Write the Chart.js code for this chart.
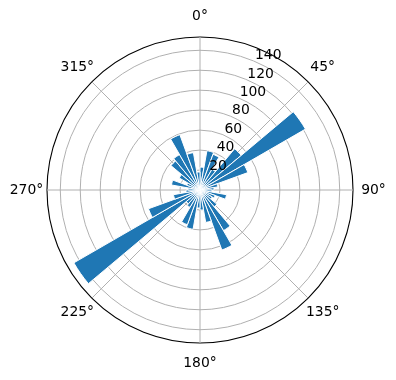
<!DOCTYPE html>
<html>
<head>
<meta charset="utf-8">
<script src="https://cdn.jsdelivr.net/npm/chart.js@4.4.1/dist/chart.umd.min.js"></script>
<style>
  html, body { margin: 0; padding: 0; background: #ffffff; }
  #wrap { width: 396px; height: 380px; }
</style>
</head>
<body>
<div id="wrap"><canvas id="c" width="396" height="380"></canvas></div>
<script>
// Direction bins (start of each 10° bin, clockwise from north)
const binStartsDeg = [0,10,20,30,40,50,60,70,80,90,100,110,120,130,140,150,160,170,
                      180,190,200,210,220,230,240,250,260,270,280,290,300,310,320,330,340,350];
// Bar lengths
const counts = [23,40,38,24,54,122,51,18,14,12,27,16,14,22,47,64,33,20,
                18,40,37,20,18,146,55,27,14,12,29,14,24,38,41,59,38,18];
// Angular tick labels
const directionLabels = ['0°','45°','90°','135°','180°','225°','270°','315°'];
// Radial tick labels
const radialTicks = [20,40,60,80,100,120,140];
const rMax = 153.3;

const FONT = '"DejaVu Sans", sans-serif';

const mplLabels = {
  id: 'mplLabels',
  afterDraw(chart) {
    const s = chart.scales.r;
    const ctx = chart.ctx;
    ctx.save();
    ctx.fillStyle = '#000000';
    ctx.font = '13.9px ' + FONT;
    ctx.textAlign = 'center';
    ctx.textBaseline = 'middle';
    directionLabels.forEach((lab, i) => {
      const p = s.getPointPosition(i, s.drawingArea + 20.5);
      ctx.fillText(lab, p.x, p.y);
    });
    ctx.textAlign = 'left';
    ctx.textBaseline = 'bottom';
    const a = 22.5 * Math.PI / 180;
    radialTicks.forEach(v => {
      const d = s.getDistanceFromCenterForValue(v);
      ctx.fillText(String(v), s.xCenter + d * Math.sin(a) + 1.5, s.yCenter - d * Math.cos(a) + 1.5);
    });
    ctx.restore();
  }
};

new Chart(document.getElementById('c'), {
  type: 'polarArea',
  data: {
    labels: directionLabels,
    datasets: [{
      data: counts,
      angle: binStartsDeg.map((b, i) => (i < binStartsDeg.length - 1 ? binStartsDeg[i + 1] : 360) - b),
      backgroundColor: '#1f77b4',
      borderColor: '#ffffff',
      borderWidth: 1
    }]
  },
  options: {
    responsive: false,
    animation: false,
    devicePixelRatio: 1,
    layout: { padding: { left: 47, right: 43, top: 37, bottom: 37 } },
    plugins: { legend: { display: false }, tooltip: { enabled: false } },
    scales: {
      r: {
        z: 1,
        min: 0,
        max: rMax,
        startAngle: 0,
        ticks: { display: false, stepSize: 20 },
        pointLabels: { display: false },
        angleLines: { display: true, color: '#b0b0b0', lineWidth: 1 },
        grid: {
          circular: true,
          color: (ctx) => (ctx.tick && ctx.tick.value > 150) ? '#000000' : '#b0b0b0',
          lineWidth: (ctx) => (ctx.tick && ctx.tick.value > 150) ? 1.1 : 1
        }
      }
    }
  },
  plugins: [mplLabels]
});
</script>
</body>
</html>
